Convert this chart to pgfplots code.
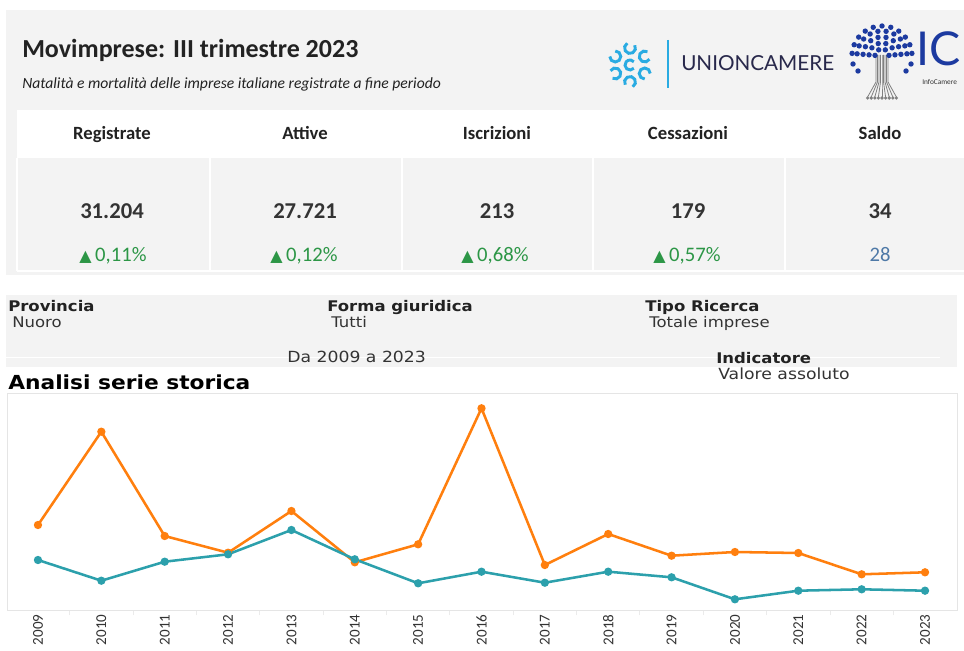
\documentclass[border=0pt]{standalone}
\usepackage{pgfplots}
\pgfplotsset{compat=1.18}
\usepackage{fontspec}
\setmainfont{Carlito}
\newfontfamily\dejavu{DejaVu Sans}
\newfontfamily\lato{Lato}
\usepackage{graphicx}
\definecolor{panel}{RGB}{243,243,243}
\definecolor{titlec}{RGB}{34,34,34}
\definecolor{darkc}{RGB}{51,51,51}
\definecolor{greenc}{RGB}{44,150,70}
\definecolor{bluec}{RGB}{78,121,167}
\definecolor{orangec}{RGB}{255,127,14}
\definecolor{tealc}{RGB}{44,160,172}
\definecolor{ucblue}{RGB}{41,171,226}
\definecolor{ucnavy}{RGB}{40,40,75}
\definecolor{icblue}{RGB}{28,58,160}
\newcommand\fw[1]{\scalebox{1.125}[1]{#1}}
\begin{document}
\begin{tikzpicture}
\useasboundingbox (0,0) rectangle (723pt,487.5pt);
\fill[white] (0,0) rectangle (723pt,487.5pt);
\begin{scope}[x=0.75pt,y=-0.75pt,yshift=487.5pt]
% header panel
\fill[panel] (6,10) rectangle (964,275);
\fill[white] (17,110) rectangle (964,158);
\foreach \x in {210,402,593,785} \draw[white,line width=0.8pt] (\x,158) -- (\x,271);
\draw[white,line width=0.8pt] (17,271) -- (964,271);
\draw[white,line width=0.8pt] (17,158) -- (17,271);
\node[anchor=base west,inner sep=0,font=\fontsize{19.5}{19.5}\selectfont\bfseries,text=titlec] at (22,58) {Movimprese: III trimestre 2023};
\node[anchor=base west,inner sep=0,font=\fontsize{11.7}{11.7}\selectfont\itshape,text=titlec] at (22,89) {Natalità e mortalità delle imprese italiane registrate a fine periodo};
% KPI
\foreach \x/\lab/\val in {112/Registrate/31.204,305/Attive/27.721,497/Iscrizioni/213,688/Cessazioni/179,880/Saldo/34}{
  \node[anchor=base,inner sep=0,font=\fontsize{14}{14}\selectfont\bfseries,text=titlec] at (\x,140) {\lab};
  \node[anchor=base,inner sep=0,font=\fontsize{17}{17}\selectfont\bfseries,text=darkc] at (\x,219) {\val};
}
\node[anchor=base,inner sep=0,font=\fontsize{15.5}{15.5}\selectfont,text=greenc] at (113,262) {{\dejavu\fontsize{12}{12}\selectfont ▲}\,0,11\%};
\node[anchor=base,inner sep=0,font=\fontsize{15.5}{15.5}\selectfont,text=greenc] at (304,262) {{\dejavu\fontsize{12}{12}\selectfont ▲}\,0,12\%};
\node[anchor=base,inner sep=0,font=\fontsize{15.5}{15.5}\selectfont,text=greenc] at (495,262) {{\dejavu\fontsize{12}{12}\selectfont ▲}\,0,68\%};
\node[anchor=base,inner sep=0,font=\fontsize{15.5}{15.5}\selectfont,text=greenc] at (687,262) {{\dejavu\fontsize{12}{12}\selectfont ▲}\,0,57\%};
\node[anchor=base,inner sep=0,font=\fontsize{15.5}{15.5}\selectfont,text=bluec] at (880,262) {28};
% Unioncamere logo
\foreach \a in {30,90,150,210,270,330}{
  \draw[ucblue,line width=2.2pt] ([shift={(\a:17)}]630,65) ++(\a+60:5.5) arc[start angle=\a+60,end angle=\a+330,radius=5.5];
}
\draw[ucblue,line width=2.2pt] (630,65) ++(40:5) arc[start angle=40,end angle=320,radius=5];
\draw[ucblue,line width=1.2pt] (668,40) -- (668,88);
\node[anchor=base west,inner sep=0,font=\lato\fontsize{15.5}{15.5}\selectfont,text=ucnavy] at (681,71) {UNIONCAMERE};
% InfoCamere logo
\foreach \i in {-4,...,4}{
  \draw[gray,line width=0.6pt] (882+\i*1.5,55) -- (882+\i*1.5,82) -- (882+\i*3.6,97);
  \fill[gray] (882+\i*3.6,98) circle[radius=1.8];
}
\foreach \r/\n in {7/3,13/5,19/7,25/9,30/10}{
  \foreach \k in {0,...,\n}{
    \pgfmathsetmacro\ang{185+\k*170/\n}
    \fill[icblue] ([shift={(\ang:\r)}]882,56) circle[radius=2.7];
  }
}
\fill[icblue] (853,64) circle[radius=2.7];\fill[icblue] (911,64) circle[radius=2.7];
\fill[icblue] (858,71) circle[radius=2.7];\fill[icblue] (906,71) circle[radius=2.7];
\node[anchor=base west,inner sep=0,font=\lato\fontsize{35}{35}\selectfont,text=icblue] at (916,66) {IC};
\node[anchor=base west,inner sep=0,font=\fontsize{5.5}{5.5}\selectfont,text=darkc] at (922,85) {InfoCamere};
% filter panel
\fill[panel] (6,295) rectangle (957,367);
\draw[white,line width=0.75pt] (6,358) -- (940,358);
\node[anchor=base west,inner sep=0,font=\dejavu\fontsize{11}{11}\selectfont\bfseries,text=titlec] at (8,312) {\fw{Provincia}};
\node[anchor=base west,inner sep=0,font=\dejavu\fontsize{11}{11}\selectfont,text=darkc] at (12,328) {\fw{Nuoro}};
\node[anchor=base west,inner sep=0,font=\dejavu\fontsize{11}{11}\selectfont\bfseries,text=titlec] at (327,312) {\fw{Forma giuridica}};
\node[anchor=base west,inner sep=0,font=\dejavu\fontsize{11}{11}\selectfont,text=darkc] at (331,328) {\fw{Tutti}};
\node[anchor=base west,inner sep=0,font=\dejavu\fontsize{11}{11}\selectfont\bfseries,text=titlec] at (645,312) {\fw{Tipo Ricerca}};
\node[anchor=base west,inner sep=0,font=\dejavu\fontsize{11}{11}\selectfont,text=darkc] at (649,328) {\fw{Totale imprese}};
\node[anchor=base west,inner sep=0,font=\dejavu\fontsize{11.5}{11.5}\selectfont,text=darkc] at (287,363) {\fw{Da 2009 a 2023}};
\node[anchor=base west,inner sep=0,font=\dejavu\fontsize{11}{11}\selectfont\bfseries,text=titlec] at (716,364) {\fw{Indicatore}};
\node[anchor=base west,inner sep=0,font=\dejavu\fontsize{11.5}{11.5}\selectfont,text=darkc] at (718,380) {\fw{Valore assoluto}};
\node[anchor=base west,inner sep=0,font=\dejavu\fontsize{14.5}{14.5}\selectfont\bfseries,text=black] at (8,390) {\fw{Analisi serie storica}};
\end{scope}
\begin{axis}[
  at={(5.25pt,30pt)},anchor=south west,
  scale only axis,width=712.5pt,height=162.75pt,
  xmin=-0.489,xmax=14.505,ymin=0,ymax=2170,
  axis line style={draw=black!10,line width=0.6pt},
  axis background/.style={fill=white},
  ytick=\empty,
  xtick={0,...,14},
  xtick pos=lower,
  xticklabels={2009,2010,2011,2012,2013,2014,2015,2016,2017,2018,2019,2020,2021,2022,2023},
  xticklabel style={rotate=90,anchor=east,font=\fontsize{11.3}{11.3}\selectfont,text=darkc},
  major tick length=0pt,
  minor x tick num=1,
  minor tick length=4pt,
  tick align=outside,
  every minor tick/.append style={draw=black!8,line width=0.6pt},
  clip=false,
]
\addplot[orangec,line width=1.9pt,mark=*,mark size=2.1pt,mark options={solid}] coordinates {
(0,850) (1,1783) (2,740) (3,573) (4,990) (5,477) (6,657) (7,2017) (8,450) (9,760) (10,543) (11,580) (12,570) (13,357) (14,377)};
\addplot[tealc,line width=1.9pt,mark=*,mark size=2.1pt,mark options={solid}] coordinates {
(0,500) (1,293) (2,483) (3,557) (4,800) (5,507) (6,267) (7,383) (8,273) (9,383) (10,327) (11,107) (12,193) (13,207) (14,193)};
\end{axis}
\end{tikzpicture}
\end{document}
